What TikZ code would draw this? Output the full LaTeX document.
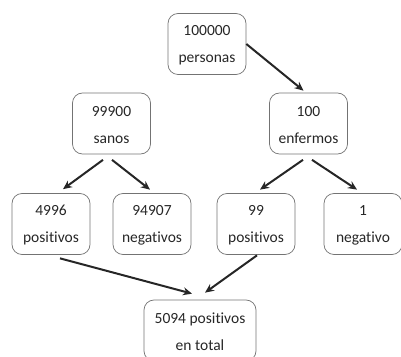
\documentclass[tikz,border=0pt]{standalone}
\usepackage{fontspec}
\setmainfont[Ligatures=CommonOff]{Carlito}
\usetikzlibrary{positioning,arrows.meta}
\begin{document}
\begin{tikzpicture}[x=1pt,y=1pt,>={Stealth[length=9pt,width=8pt]},
  box/.style={draw=black!55,line width=0.7pt,rounded corners=10pt,align=center,
    minimum width=78pt,minimum height=61pt,inner sep=2pt,text=black!85,
    font=\fontsize{15.5}{27}\selectfont},
  arr/.style={->,line width=2pt,black!85}]
  \useasboundingbox (0,0) rectangle (401,356);
  % population
  \node[box] (top) at (207,312) {\rule{0pt}{13pt}100000\\personas};
  \node[box] (sanos) at (111.5,232.5) {\rule{0pt}{13pt}99900\\sanos};
  \node[box] (enf) at (308.5,232.5) {\rule{0pt}{13pt}100\\enfermos};
  % test results
  \node[box] (sp) at (51,132) {\rule{0pt}{13pt}4996\\positivos};
  \node[box] (sn) at (152,132) {\rule{0pt}{13pt}94907\\negativos};
  \node[box] (ep) at (256,132) {\rule{0pt}{13pt}99\\positivos};
  \node[box] (en) at (363,132) {\rule{0pt}{13pt}1\\negativo};
  \node[box,minimum width=112pt] (tot) at (200,25.5) {\rule{0pt}{13pt}5094 positivos\\en total};
  \draw[arr] (top.east) -- ([shift={(-5,2)}]enf.north);
  \draw[arr] ([shift={(-8.5,-5.5)}]sanos.south) -- ([shift={(12,4)}]sp.north);
  \draw[arr] ([shift={(0.5,-5.5)}]sanos.south) -- ([shift={(-2,3.5)}]sn.north);
  \draw[arr] ([shift={(-5.5,-5.5)}]enf.south) -- ([shift={(4,3.5)}]ep.north);
  \draw[arr] ([shift={(3.5,-5.5)}]enf.south) -- ([shift={(-6,3.5)}]en.north);
  \draw[arr] ([shift={(9,-3.5)}]sp.south) -- ([shift={(-8,6)}]tot.north);
  \draw[arr] ([shift={(1,-0.5)}]ep.south) -- ([shift={(5,7)}]tot.north);
\end{tikzpicture}
\end{document}
